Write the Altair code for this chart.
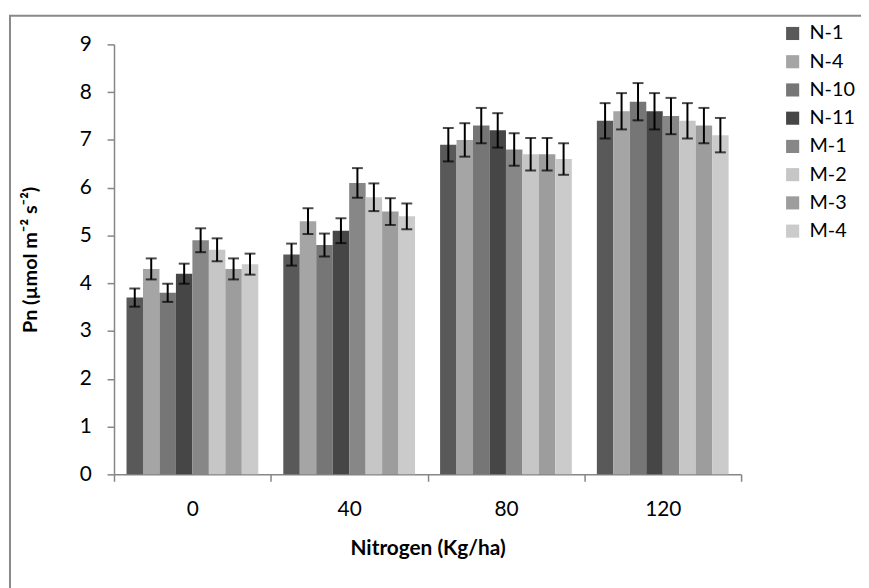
import altair as alt
import pandas as pd

nitrogen = ["0", "40", "80", "120"]
genotypes = ["N-1", "N-4", "N-10", "N-11", "M-1", "M-2", "M-3", "M-4"]
colors = ["#595959", "#a5a5a5", "#767676", "#464646", "#878787", "#c6c6c6", "#9d9d9d", "#cbcbcb"]

pn_0 = [3.7, 4.3, 3.8, 4.2, 4.9, 4.7, 4.3, 4.4]
pn_40 = [4.6, 5.3, 4.8, 5.1, 6.1, 5.8, 5.5, 5.4]
pn_80 = [6.9, 7.0, 7.3, 7.2, 6.8, 6.7, 6.7, 6.6]
pn_120 = [7.4, 7.6, 7.8, 7.6, 7.5, 7.4, 7.3, 7.1]

err_0 = [0.19, 0.22, 0.19, 0.21, 0.25, 0.24, 0.22, 0.22]
err_40 = [0.23, 0.27, 0.24, 0.26, 0.31, 0.29, 0.28, 0.27]
err_80 = [0.35, 0.35, 0.37, 0.36, 0.34, 0.34, 0.34, 0.33]
err_120 = [0.37, 0.38, 0.39, 0.38, 0.38, 0.37, 0.37, 0.36]

rows = []
for n, vals, errs in zip(nitrogen, [pn_0, pn_40, pn_80, pn_120], [err_0, err_40, err_80, err_120]):
    for g, v, e in zip(genotypes, vals, errs):
        rows.append({"Nitrogen": n, "Genotype": g, "Pn": v, "lo": v - e, "hi": v + e})
df = pd.DataFrame(rows)

FONT = "Lato"
FS = 21

x_enc = alt.X(
    "Nitrogen:N",
    sort=nitrogen,
    scale=alt.Scale(domain=nitrogen, paddingInner=0, paddingOuter=0),
    axis=alt.Axis(
        title="Nitrogen (Kg/ha)",
        labelAngle=0,
        tickBand="extent",
        tickSize=7,
        labelPadding=18,
        titleX=316.5,
        titleY=75,
        titleBaseline="middle",
        titleAlign="center",
    ),
)
xo_enc = alt.XOffset(
    "Genotype:N",
    sort=genotypes,
    scale=alt.Scale(domain=genotypes, paddingInner=0, paddingOuter=0.76),
)
y_scale = alt.Scale(domain=[0, 9], nice=False)

bars = alt.Chart(df).mark_bar().encode(
    x=x_enc,
    xOffset=xo_enc,
    y=alt.Y(
        "Pn:Q",
        scale=y_scale,
        axis=alt.Axis(
            title="Pn (µmol m⁻² s⁻²)",
            titleFontSize=20,
            values=list(range(0, 10)),
            tickSize=7,
            labelPadding=16,
            grid=False,
            titleX=-84,
            titleY=217,
            titleAngle=-90,
            titleBaseline="middle",
            titleAlign="center",
        ),
    ),
    color=alt.Color(
        "Genotype:N",
        sort=genotypes,
        scale=alt.Scale(domain=genotypes, range=colors),
        legend=alt.Legend(
            title=None,
            orient="none",
            legendX=675,
            legendY=-21,
            symbolType="square",
            symbolSize=175,
            symbolStrokeWidth=0,
            labelFontSize=20,
            labelFont=FONT,
            labelColor="#000000",
            rowPadding=8.5,
            labelOffset=7,
            padding=0,
        ),
    ),
)

stems = alt.Chart(df).mark_rule(color="#000000", strokeWidth=2).encode(
    x=alt.X("Nitrogen:N", sort=nitrogen),
    xOffset=alt.XOffset("Genotype:N", sort=genotypes),
    y=alt.Y("lo:Q"),
    y2="hi:Q",
)
caps_lo = alt.Chart(df).mark_tick(color="#000000", orient="horizontal", size=11, thickness=2).encode(
    x=alt.X("Nitrogen:N", sort=nitrogen),
    xOffset=alt.XOffset("Genotype:N", sort=genotypes),
    y=alt.Y("lo:Q"),
)
caps_hi = alt.Chart(df).mark_tick(color="#000000", orient="horizontal", size=11, thickness=2).encode(
    x=alt.X("Nitrogen:N", sort=nitrogen),
    xOffset=alt.XOffset("Genotype:N", sort=genotypes),
    y=alt.Y("hi:Q"),
)

frame = alt.Chart(alt.Data(values=[{"f": 1}])).mark_rect(
    fill=None, stroke="#898989", strokeWidth=2, clip=False
).encode(
    x=alt.value(-105), x2=alt.value(800), y=alt.value(-29), y2=alt.value(600)
)

chart = alt.layer(frame, bars, stems, caps_lo, caps_hi).properties(
    width=633,
    height=434,
    autosize=alt.AutoSizeParams(type="none"),
    padding={"left": 107, "top": 34, "right": 121, "bottom": 112},
).configure_view(stroke=None).configure_axis(
    domainColor="#868686",
    domainWidth=1.5,
    tickColor="#868686",
    tickWidth=1.5,
    labelFont=FONT,
    labelFontSize=FS,
    labelColor="#000000",
    titleFont=FONT,
    titleFontSize=FS,
    titleFontWeight="bold",
    titleColor="#000000",
)

chart.save("out.html", embed_options={"renderer": "svg", "actions": False})
